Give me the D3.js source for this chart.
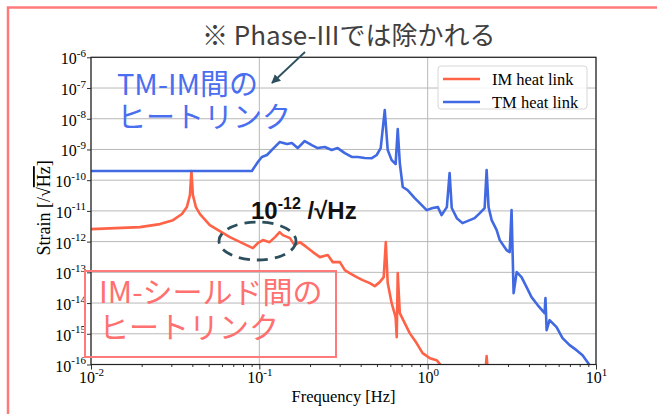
<!DOCTYPE html>
<html><head><meta charset="utf-8">
<script src="https://cdn.jsdelivr.net/npm/d3@7"></script>
<style>
html,body{margin:0;padding:0;background:#fff;}
svg{display:block;}
</style></head>
<body>
<script>
// ---------------- data ----------------
const seriesNames = ["IM heat link", "TM heat link"];
const seriesColors = ["#ff6347", "#4169e1"];

const imFreq = [0.01,0.0195,0.0257,0.0307,0.0347,0.0371,0.0387,0.0395,0.0403,0.042,0.0444,0.0508,0.0668,0.0915,0.098,0.105,0.115,0.124,0.132,0.138,0.152,0.162,0.174,0.191,0.208,0.229,0.255,0.273,0.301,0.322,0.344,0.379,0.411,0.453,0.485,0.519,0.548,0.564,0.579,0.611,0.645,0.655,0.664,0.683,0.731,0.782,0.861,0.933,1.03,1.13,1.23,2.20,2.24,2.28];
const imStrain = [2.56e-12,2.97e-12,3.72e-12,5.0e-12,7.9e-12,1.33e-11,3.27e-11,2.0e-10,3.27e-11,1.33e-11,7.9e-12,3.45e-12,1.4e-12,6.15e-13,8.95e-13,1.12e-12,9.6e-13,1.4e-12,2.04e-12,1.63e-12,1.3e-12,7.7e-13,9.6e-13,6.6e-13,4.56e-13,3.13e-13,3.64e-13,2.15e-13,2.15e-13,1.18e-13,9.4e-14,7.0e-14,5.6e-14,4.46e-14,3.56e-14,4.8e-14,7.0e-14,9.6e-13,4.46e-14,9.95e-15,3.48e-15,7.8e-16,9.4e-14,4.7e-15,2.22e-15,1.05e-15,4.9e-16,2.34e-16,1.61e-16,1.38e-16,8e-17,5e-17,1.87e-16,5e-17];

const tmFreq = [0.01,0.0903,0.098,0.1035,0.111,0.120,0.132,0.146,0.156,0.169,0.186,0.205,0.222,0.245,0.269,0.292,0.322,0.354,0.385,0.423,0.466,0.498,0.526,0.556,0.579,0.611,0.645,0.664,0.683,0.711,0.760,0.838,0.922,0.986,1.07,1.15,1.21,1.30,1.35,1.39,1.49,1.61,1.78,1.90,2.04,2.18,2.24,2.30,2.40,2.57,2.68,2.94,3.07,3.15,3.24,3.38,3.61,3.87,4.14,4.50,4.95,5.01,5.09,5.30,5.83,6.33,6.97,7.66,8.32,8.91,9.40];
const tmStrain = [2.0e-10,2.0e-10,3.9e-10,5.7e-10,6.6e-10,1.03e-9,1.74e-9,1.5e-9,1.62e-9,1.11e-9,1.88e-9,1.39e-9,1.11e-9,1.2e-9,9.6e-10,1.11e-9,7.6e-10,5.7e-10,5.7e-10,5.25e-10,5.2e-10,6.6e-10,1.1e-9,1.92e-8,9.6e-10,4.5e-10,3.35e-10,4.62e-9,3.6e-10,6.0e-11,4.76e-11,2.61e-11,1.55e-11,1.06e-11,1.24e-11,1.33e-11,7.3e-12,1.33e-11,1.71e-10,1.24e-11,5.8e-12,4.0e-12,5.0e-12,5.8e-12,8.5e-12,1.24e-11,2.13e-10,1.33e-11,5.0e-12,2.37e-12,1.12e-12,5.3e-13,4.56e-13,1.06e-11,2.1e-14,1.02e-13,7.0e-14,3.3e-14,1.56e-14,8.6e-15,4.7e-15,1.45e-14,1.31e-15,2.78e-15,1.64e-15,7.2e-16,4.26e-16,2.93e-16,2.0e-16,1.19e-16,7.6e-17];

const xTickExps = [-2,-1,0,1];
const yTickExps = [-16,-15,-14,-13,-12,-11,-10,-9,-8,-7,-6];
const xLabel = "Frequency [Hz]";
const yLabelMain = "Strain [/√";
const yLabelRoot = "Hz";
const noteTop = "※ Phase-IIIでは除かれる";
const noteTM = ["TM-IM間の", "ヒートリンク"];
const noteIM = ["IM-シールド間の", "ヒートリンク"];
const noteLevelBase = "10";
const noteLevelExp = "-12";
const noteLevelUnit = " /√Hz";

// ---------------- layout ----------------
const W = 657, H = 414;
const plot = {left: 91, right: 596, top: 57.3, bottom: 364.5};

const svg = d3.select("body").append("svg").attr("width", W).attr("height", H);

// outer pink frame
svg.append("rect").attr("x", 8).attr("y", 7.5).attr("width", W + 20).attr("height", H + 20)
  .attr("fill", "none").attr("stroke", "#ff7b7b").attr("stroke-width", 2.5);

const x = d3.scaleLog().domain([1e-2, 1e1]).range([plot.left, plot.right]);
const y = d3.scaleLog().domain([1e-16, 1e-6]).range([plot.bottom, plot.top]);

const serif = "'Liberation Serif','Times New Roman',serif";
const jp = "'Noto Sans CJK JP','Noto Sans',sans-serif";

// grid
const grid = svg.append("g");
xTickExps.forEach(e => {
  grid.append("line").attr("x1", x(Math.pow(10, e))).attr("x2", x(Math.pow(10, e)))
    .attr("y1", plot.top).attr("y2", plot.bottom).attr("stroke", "#b8b8b8").attr("stroke-width", 1);
});
yTickExps.forEach(e => {
  grid.append("line").attr("y1", y(Math.pow(10, e))).attr("y2", y(Math.pow(10, e)))
    .attr("x1", plot.left).attr("x2", plot.right).attr("stroke", "#b8b8b8").attr("stroke-width", 1);
});

// clip
svg.append("clipPath").attr("id", "clip").append("rect")
  .attr("x", plot.left).attr("y", plot.top).attr("width", plot.right - plot.left).attr("height", plot.bottom - plot.top);

const line = d3.line().x(d => x(d[0])).y(d => y(d[1]));
const series = [d3.zip(imFreq, imStrain), d3.zip(tmFreq, tmStrain)];
const gLines = svg.append("g").attr("clip-path", "url(#clip)");
series.forEach((s, i) => {
  gLines.append("path").datum(s).attr("d", line).attr("fill", "none")
    .attr("stroke", seriesColors[i]).attr("stroke-width", 2.6).attr("stroke-linejoin", "round");
});

// axes
const xAxis = d3.axisBottom(x).tickValues(xTickExps.map(e => Math.pow(10, e))).tickSize(5).tickFormat(() => "");
const minorVals = [];
[-2, -1, 0].forEach(e => { for (let k = 2; k <= 9; k++) minorVals.push(k * Math.pow(10, e)); });
const xMinor = d3.axisBottom(x).tickValues(minorVals).tickSize(2.5).tickFormat(() => "");
const yAxis = d3.axisLeft(y).tickValues(yTickExps.map(e => Math.pow(10, e))).tickSize(4).tickFormat(() => "");

const gx = svg.append("g").attr("transform", `translate(0,${plot.bottom})`).call(xAxis);
svg.append("g").attr("transform", `translate(0,${plot.bottom})`).call(xMinor).select(".domain").remove();
const gy = svg.append("g").attr("transform", `translate(${plot.left},0)`).call(yAxis);
[gx, gy].forEach(g => { g.select(".domain").remove(); });
svg.selectAll(".tick line").attr("stroke", "#333");

// frame box
svg.append("rect").attr("x", plot.left).attr("y", plot.top).attr("width", plot.right - plot.left)
  .attr("height", plot.bottom - plot.top).attr("fill", "none").attr("stroke", "#222").attr("stroke-width", 1.2);

// tick labels
gx.selectAll(".tick").each(function(d) {
  const t = d3.select(this).append("text").attr("fill", "#000").attr("font-family", serif)
    .attr("text-anchor", "middle").attr("y", 18.5);
  t.append("tspan").attr("font-size", 16).text("10");
  t.append("tspan").attr("font-size", 11).attr("dy", -7.5).text(Math.round(Math.log10(d)));
});
gy.selectAll(".tick").each(function(d) {
  const t = d3.select(this).append("text").attr("fill", "#000").attr("font-family", serif)
    .attr("text-anchor", "end").attr("x", -5).attr("y", 6.5);
  t.append("tspan").attr("font-size", 16).text("10");
  t.append("tspan").attr("font-size", 11).attr("dy", -7.5).text(Math.round(Math.log10(d)));
});

// axis titles
svg.append("text").attr("x", (plot.left + plot.right) / 2).attr("y", 402).attr("text-anchor", "middle")
  .attr("font-family", serif).attr("font-size", 16.5).attr("fill", "#000").text(xLabel);
const yl = svg.append("text").attr("transform", `translate(50,${(plot.top + plot.bottom) / 2 - 3}) rotate(-90)`)
  .attr("text-anchor", "middle").attr("font-family", serif).attr("font-size", 18).attr("fill", "#000");
yl.append("tspan").text(yLabelMain);
yl.append("tspan").attr("text-decoration", "overline").style("text-decoration", "overline").text(yLabelRoot);
yl.append("tspan").text("]");

// legend
const lg = svg.append("g").attr("transform", "translate(438,66)");
lg.append("rect").attr("width", 149).attr("height", 43).attr("rx", 3).attr("fill", "rgba(255,255,255,0.85)")
  .attr("stroke", "#d6d6d6").attr("stroke-width", 1);
seriesNames.forEach((n, i) => {
  const yy = 13 + i * 23;
  lg.append("line").attr("x1", 5).attr("x2", 42).attr("y1", yy).attr("y2", yy)
    .attr("stroke", seriesColors[i]).attr("stroke-width", 2.6);
  lg.append("text").attr("x", 54).attr("y", yy + 5.5).attr("font-family", serif).attr("font-size", 16.5)
    .attr("fill", "#000").text(n);
});

// annotations
svg.append("text").attr("x", 202).attr("y", 45).attr("font-family", jp).attr("font-size", 26)
  .attr("fill", "#404040").text(noteTop);

svg.append("defs").append("marker").attr("id", "arr").attr("viewBox", "0 0 10 10").attr("refX", 9).attr("refY", 5)
  .attr("markerWidth", 5).attr("markerHeight", 5).attr("orient", "auto")
  .append("path").attr("d", "M0,0L10,5L0,10z").attr("fill", "#2c5060");
svg.append("line").attr("x1", 305).attr("y1", 52).attr("x2", 272).attr("y2", 83)
  .attr("stroke", "#2c5060").attr("stroke-width", 1.8).attr("marker-end", "url(#arr)");

const tmText = svg.append("text").attr("font-family", jp).attr("font-size", 29).attr("fill", "#4a6ef0");
noteTM.forEach((s, i) => {
  tmText.append("tspan").attr("x", 117).attr("y", 95 + i * 33).text(s);
});

// level note
const lv = svg.append("text").attr("x", 251).attr("y", 219).attr("font-family", "'Liberation Sans',Arial,sans-serif")
  .attr("font-weight", "bold").attr("fill", "#111");
lv.append("tspan").attr("font-size", 24).text(noteLevelBase);
lv.append("tspan").attr("font-size", 16).attr("dy", -10).text(noteLevelExp);
lv.append("tspan").attr("font-size", 24).attr("dy", 10).text(noteLevelUnit);

svg.append("ellipse").attr("cx", 257.5).attr("cy", 241).attr("rx", 38.5).attr("ry", 19)
  .attr("fill", "none").attr("stroke", "#2c4f5e").attr("stroke-width", 2.8).attr("stroke-dasharray", "11,7");

// IM box
svg.append("rect").attr("x", 85).attr("y", 271).attr("width", 251).attr("height", 86)
  .attr("fill", "none").attr("stroke", "#ff7b7b").attr("stroke-width", 2);
const imText = svg.append("text").attr("font-family", jp).attr("font-size", 30).attr("fill", "#ff7070");
noteIM.forEach((s, i) => {
  imText.append("tspan").attr("x", 99).attr("y", 303 + i * 35).text(s);
});
</script>
</body></html>
